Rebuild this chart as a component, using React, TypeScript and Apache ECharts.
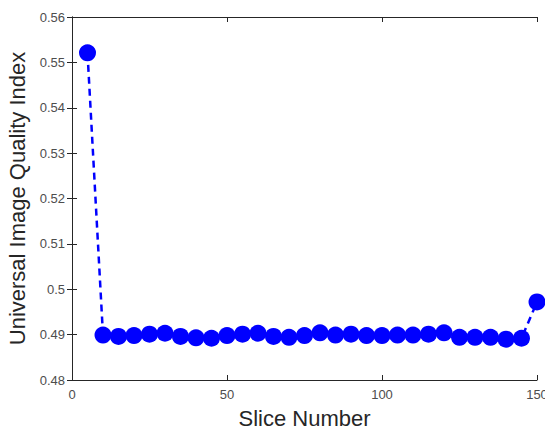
import React, { useEffect, useRef } from "react";
import * as echarts from "echarts";

const sliceNumbers = [5, 10, 15, 20, 25, 30, 35, 40, 45, 50, 55, 60, 65, 70, 75, 80, 85, 90, 95, 100, 105, 110, 115, 120, 125, 130, 135, 140, 145, 150];
const uiqiValues = [
  0.5521, 0.4899, 0.4896, 0.4898, 0.4901, 0.4903, 0.4896, 0.4893, 0.4892, 0.4898,
  0.4901, 0.4903, 0.4896, 0.4894, 0.4898, 0.4904, 0.4899, 0.4901, 0.4898, 0.4898,
  0.4899, 0.4899, 0.4901, 0.4904, 0.4894, 0.4894, 0.4894, 0.4890, 0.4892, 0.4972,
];
const xTitle = "Slice Number";
const yTitle = "Universal Image Quality Index";

export default function App() {
  const ref = useRef<HTMLDivElement>(null);
  useEffect(() => {
    if (!ref.current) return;
    const chart = echarts.init(ref.current, null, { renderer: "svg" });
    const axisColor = "#262626";
    const labelColor = "#4d4d4d";
    const font = "Liberation Sans, Arial, Helvetica, sans-serif";
    const fmtY = (v: number) => String(parseFloat(v.toFixed(2)));
    chart.setOption({
      animation: false,
      backgroundColor: "#ffffff",
      grid: { left: 72, right: 8, top: 17, bottom: 50, containLabel: false, outerBoundsMode: "none" },
      xAxis: [
        {
          type: "value",
          min: 0,
          max: 150,
          interval: 50,
          position: "bottom",
          name: xTitle,
          nameLocation: "middle",
          nameGap: 27,
          nameTextStyle: { fontFamily: font, fontSize: 22, color: axisColor },
          axisLine: { show: true, lineStyle: { color: axisColor, width: 1 } },
          axisTick: { show: true, inside: true, length: 5, lineStyle: { color: axisColor } },
          axisLabel: { fontFamily: font, fontSize: 13, color: labelColor, margin: 8 },
          splitLine: { show: false },
        },
        {
          type: "value",
          min: 0,
          max: 150,
          interval: 50,
          position: "top",
          axisLine: { show: true, lineStyle: { color: axisColor, width: 1 } },
          axisTick: { show: true, inside: true, length: 5, lineStyle: { color: axisColor } },
          axisLabel: { show: false },
          splitLine: { show: false },
        },
      ],
      yAxis: [
        {
          type: "value",
          min: 0.48,
          max: 0.56,
          interval: 0.01,
          position: "left",
          name: yTitle,
          nameLocation: "middle",
          nameGap: 37,
          nameTextStyle: { fontFamily: font, fontSize: 22, color: axisColor },
          axisLine: { show: true, lineStyle: { color: axisColor, width: 1 } },
          axisTick: { show: true, inside: true, length: 5, lineStyle: { color: axisColor } },
          axisLabel: { fontFamily: font, fontSize: 13, color: labelColor, margin: 7, formatter: fmtY },
          splitLine: { show: false },
        },
        {
          type: "value",
          min: 0.48,
          max: 0.56,
          interval: 0.01,
          position: "right",
          axisLine: { show: true, lineStyle: { color: axisColor, width: 1 } },
          axisTick: { show: true, inside: true, length: 5, lineStyle: { color: axisColor } },
          axisLabel: { show: false },
          splitLine: { show: false },
        },
      ],
      series: [
        {
          type: "line",
          xAxisIndex: 0,
          yAxisIndex: 0,
          data: sliceNumbers.map((x, i) => [x, uiqiValues[i]]),
          clip: false,
          symbol: "circle",
          symbolSize: 17,
          itemStyle: { color: "#0000ff" },
          lineStyle: { color: "#0000ff", width: 2.5, type: [7, 5] },
          z: 3,
        },
      ],
    });
    return () => chart.dispose();
  }, []);
  return (
    <div
      ref={ref}
      style={{ position: "fixed", left: 0, top: 0, width: 545, height: 430, background: "#fff" }}
    />
  );
}
